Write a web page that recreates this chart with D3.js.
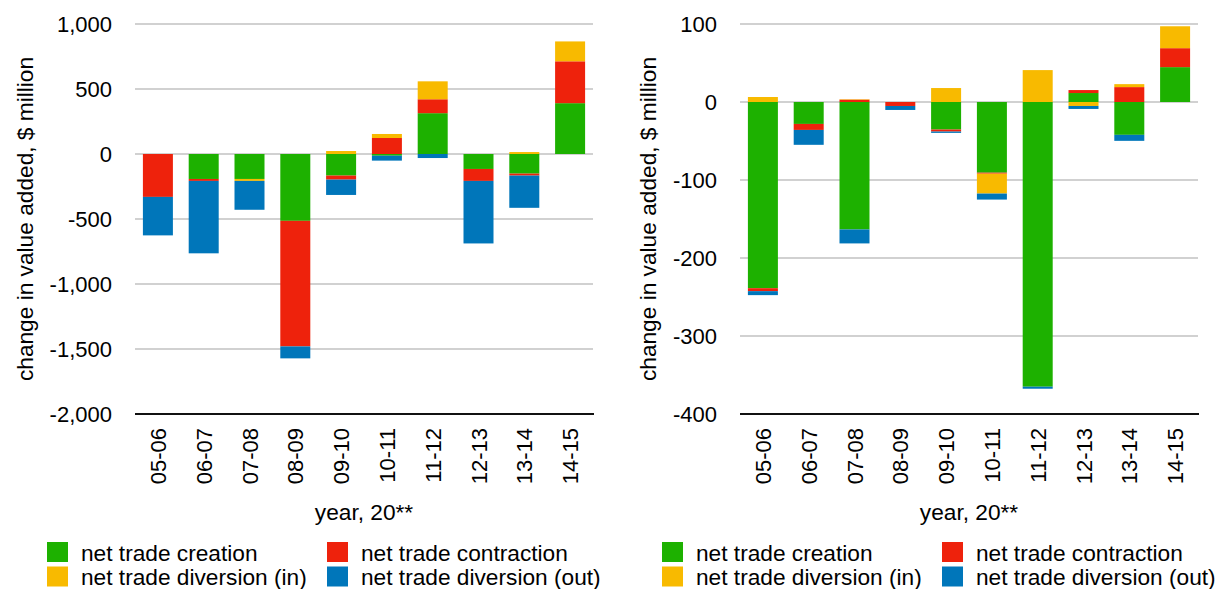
<!DOCTYPE html>
<html>
  <head>
    <meta charset="utf-8">
    <title>Change in value added</title>
    <style>
      body { margin: 0; background: #fff; }
      text { font-family: "Liberation Sans", Arial, sans-serif; fill: #000; }
    </style>
  </head>
  <body>
    <div id="container"></div>
    <script src="https://d3js.org/d3.v7.min.js"></script>
    <script>

      // DATA
      var years = ["05-06", "06-07", "07-08", "08-09", "09-10", "10-11", "11-12", "12-13", "13-14", "14-15"];
      var seriesNames = ["net trade creation", "net trade contraction", "net trade diversion (in)", "net trade diversion (out)"];
      var colors = ["#1DB100", "#EE220C", "#F8BA00", "#0076BA"];

      // left chart
      var creationA     = [0, -192, -192, -514, -166, -13, 314, -115, -151, 391];
      var contractionA  = [-330, -15, 0, -966, -31, 123, 107, -92, -15, 322];
      var diversionInA  = [0, 0, -15, 0, 23, 31, 138, 0, 15, 153];
      var diversionOutA = [-296, -557, -222, -92, -118, -38, -31, -481, -248, 0];
      var ticksA = [-2000, -1500, -1000, -500, 0, 500, 1000];

      // right chart
      var creationB     = [-238.7, -28.1, -163.4, 0, -35.3, -90.6, -365, 11.5, -42.1, 44.7];
      var contractionB  = [-3.8, -7.7, 3, -5.1, -2.6, -1.3, 0, 3.8, 19.1, 24.3];
      var diversionInB  = [6.4, 0, 0.6, 0, 17.9, -25.5, 40.9, -5.1, 3.8, 28.1];
      var diversionOutB = [-5.1, -19.1, -17.9, -5.1, -1.7, -7.7, -2.6, -3.8, -7.7, 0];
      var ticksB = [-400, -300, -200, -100, 0, 100];

      var W = 1220, H = 589;
      var svg = d3.select("#container")
        .append("svg")
        .attr("width", W)
        .attr("height", H);

      // plain hyphen for negatives, like the original
      var fmt = d3.formatLocale({ decimal: ".", thousands: ",", grouping: [3], currency: ["$", ""], minus: "-" }).format(",");

      function drawChart(cfg) {
        var rows = years.map((y, i) => ({
          year: y,
          s0: cfg.series[0][i], s1: cfg.series[1][i],
          s2: cfg.series[2][i], s3: cfg.series[3][i]
        }));
        var keys = ["s0", "s1", "s2", "s3"];
        var stacked = d3.stack().keys(keys).offset(d3.stackOffsetDiverging)(rows);

        var x = d3.scaleBand()
          .domain(years)
          .range([cfg.left, cfg.right])
          .paddingInner(0.345)
          .paddingOuter(0.1725);

        var y = d3.scaleLinear()
          .domain(cfg.domain)
          .range([414, 24]);

        var g = svg.append("g");

        // GRIDLINES
        g.selectAll(".grid")
          .data(cfg.ticks.filter(t => t !== cfg.domain[0]))
          .enter().append("line")
          .attr("x1", cfg.left).attr("x2", cfg.right)
          .attr("y1", d => y(d)).attr("y2", d => y(d))
          .attr("stroke", "#c2c2c2")
          .attr("stroke-width", 1.6);

        // Y TICK LABELS
        g.selectAll(".ylab")
          .data(cfg.ticks)
          .enter().append("text")
          .attr("x", cfg.labelX)
          .attr("y", d => y(d))
          .attr("dy", "0.36em")
          .attr("text-anchor", "end")
          .style("font-size", "22px")
          .text(d => fmt(d));

        // BARS
        g.selectAll(".layer")
          .data(stacked)
          .enter().append("g")
          .attr("fill", (d, i) => colors[i])
          .selectAll("rect")
          .data(d => d)
          .enter().append("rect")
          .attr("x", d => x(d.data.year))
          .attr("width", x.bandwidth())
          .attr("y", d => y(Math.max(d[0], d[1])))
          .attr("height", d => Math.abs(y(d[0]) - y(d[1])));

        // BOTTOM AXIS LINE
        g.append("line")
          .attr("x1", cfg.left).attr("x2", cfg.right + 1)
          .attr("y1", y(cfg.domain[0])).attr("y2", y(cfg.domain[0]))
          .attr("stroke", "#111")
          .attr("stroke-width", 2);

        // X TICK LABELS (rotated)
        g.selectAll(".xlab")
          .data(years)
          .enter().append("text")
          .attr("transform", d => "translate(" + (x(d) + x.bandwidth() / 2 + 8) + ",428) rotate(-90)")
          .attr("text-anchor", "end")
          .style("font-size", "22px")
          .text(d => d);

        // AXIS TITLES
        g.append("text")
          .attr("x", (cfg.left + cfg.right) / 2)
          .attr("y", 520)
          .attr("text-anchor", "middle")
          .style("font-size", "22.7px")
          .text("year, 20**");

        g.append("text")
          .attr("transform", "translate(" + cfg.titleX + ",219) rotate(-90)")
          .attr("text-anchor", "middle")
          .style("font-size", "22.7px")
          .text("change in value added, $ million");

        // LEGEND
        var legend = g.selectAll(".leg")
          .data(seriesNames)
          .enter().append("g")
          .attr("transform", (d, i) => "translate(" + (cfg.legendX + (i % 2) * 280) + "," + (542 + Math.floor(i / 2) * 24.5) + ")");
        legend.append("rect")
          .attr("width", 21).attr("height", 20)
          .attr("fill", (d, i) => colors[i]);
        legend.append("text")
          .attr("x", 34)
          .attr("y", 18.5)
          .style("font-size", "22.7px")
          .text(d => d);
      }

      drawChart({
        series: [creationA, contractionA, diversionInA, diversionOutA],
        domain: [-2000, 1000], ticks: ticksA,
        left: 135, right: 593, labelX: 112, titleX: 33, legendX: 47
      });

      drawChart({
        series: [creationB, contractionB, diversionInB, diversionOutB],
        domain: [-400, 100], ticks: ticksB,
        left: 740, right: 1198, labelX: 717, titleX: 656, legendX: 662
      });

    </script>
  </body>
</html>
